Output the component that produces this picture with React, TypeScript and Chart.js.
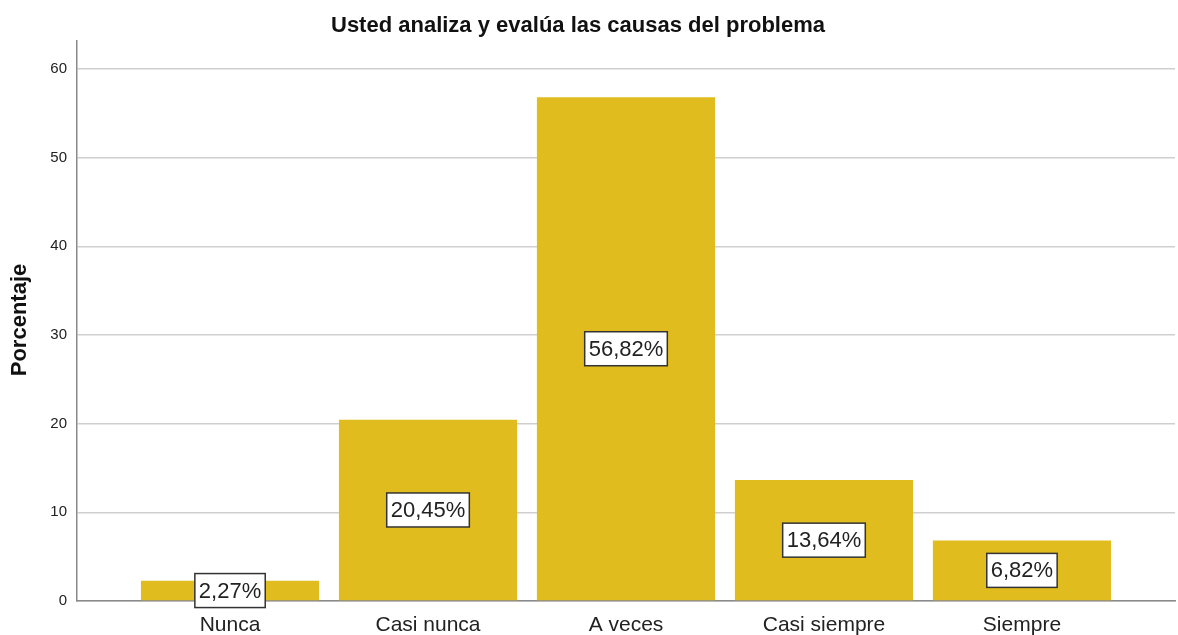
import React, { useEffect, useRef } from "react";
import { Chart, registerables } from "chart.js";

Chart.register(...registerables);

const categories = ["Nunca", "Casi nunca", "A veces", "Casi siempre", "Siempre"];
const percentages = [2.27, 20.45, 56.82, 13.64, 6.82];
const yTicks = [0, 10, 20, 30, 40, 50, 60];
const chartTitle = "Usted analiza y evalúa las causas del problema";
const yTitle = "Porcentaje";

const FONT = "'Liberation Sans', Arial, sans-serif";

const decorPlugin = {
  id: "decor",
  afterDatasetsDraw(chart: any) {
    const ctx = chart.ctx;
    const meta = chart.getDatasetMeta(0);
    ctx.save();
    ctx.font = `22px ${FONT}`;
    ctx.textAlign = "center";
    ctx.textBaseline = "middle";
    meta.data.forEach((bar: any, i: number) => {
      const label = percentages[i].toFixed(2).replace(".", ",") + "%";
      const cx = bar.x;
      const cy = (bar.y + bar.base) / 2;
      const w = ctx.measureText(label).width + 8;
      const h = 34;
      ctx.fillStyle = "#ffffff";
      ctx.fillRect(cx - w / 2, cy - h / 2, w, h);
      ctx.strokeStyle = "#333333";
      ctx.lineWidth = 1.5;
      ctx.strokeRect(cx - w / 2, cy - h / 2, w, h);
      ctx.fillStyle = "#222222";
      ctx.fillText(label, cx, cy + 1);
    });
    ctx.restore();
  },
  afterDraw(chart: any) {
    const ctx = chart.ctx;
    ctx.save();
    ctx.fillStyle = "#111111";
    ctx.font = `bold 22px ${FONT}`;
    ctx.textAlign = "center";
    ctx.textBaseline = "alphabetic";
    ctx.fillText(chartTitle, 578, 32);
    ctx.translate(26, 320);
    ctx.rotate(-Math.PI / 2);
    ctx.font = `bold 22px ${FONT}`;
    ctx.textBaseline = "alphabetic";
    ctx.fillText(yTitle, 0, 0);
    ctx.restore();
  },
};

export default function App() {
  const ref = useRef<HTMLCanvasElement>(null);
  useEffect(() => {
    if (!ref.current) return;
    const chart = new Chart(ref.current, {
      type: "bar",
      data: {
        datasets: [
          {
            data: percentages.map((v, i) => ({ x: i, y: v })),
            backgroundColor: "#E1BC1E",
            borderWidth: 0,
            barPercentage: 0.9,
            categoryPercentage: 1,
          },
        ],
      },
      options: {
        animation: false,
        responsive: false,
        maintainAspectRatio: false,
        layout: { padding: { top: 41, right: 3, left: 0, bottom: 0 } },
        plugins: {
          legend: { display: false },
          title: { display: false },
          tooltip: { enabled: false },
        },
        scales: {
          x: {
            type: "linear",
            offset: false,
            min: -0.773,
            max: 4.773,
            grid: { display: false, offset: false },
            border: { color: "#8a8a8a", width: 1.5 },
            afterBuildTicks: (scale: any) => {
              scale.ticks = categories.map((_, i) => ({ value: i }));
            },
            afterFit: (scale: any) => {
              scale.height = 34;
            },
            ticks: {
              autoSkip: false,
              maxRotation: 0,
              padding: 4,
              color: "#222222",
              font: { family: FONT, size: 21 },
              callback: (v: any) => categories[v as number] ?? "",
            },
          },
          y: {
            min: 0,
            max: 63.16,
            afterBuildTicks: (scale: any) => {
              scale.ticks = yTicks.map((v) => ({ value: v }));
            },
            afterFit: (scale: any) => {
              scale.width = 77;
            },
            grid: { color: "#cfcfcf", lineWidth: 1.5, drawTicks: false },
            border: { color: "#8a8a8a", width: 1.5 },
            ticks: {
              padding: 10,
              color: "#222222",
              font: { family: FONT, size: 15 },
            },
          },
        },
      },
      plugins: [decorPlugin],
    } as any);
    return () => chart.destroy();
  }, []);
  return (
    <div style={{ position: "fixed", left: 0, top: 0, width: 1178, height: 635, background: "#fff" }}>
      <canvas ref={ref} width={1178} height={635} style={{ display: "block" }} />
    </div>
  );
}
